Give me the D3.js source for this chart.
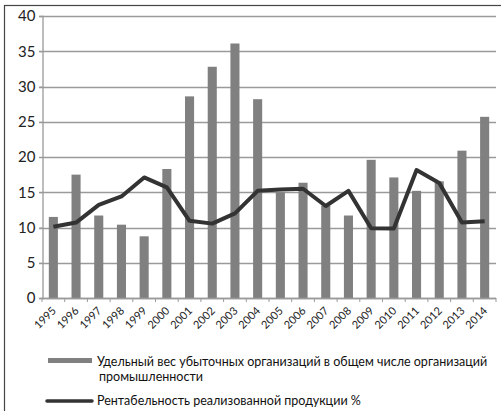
<!DOCTYPE html>
<html>
<head>
<meta charset="utf-8">
<script src="https://cdn.jsdelivr.net/npm/d3@7"></script>
<style>
body { margin: 0; background: #fff; }
</style>
</head>
<body>
<div id="plot"></div>
<script>
var years = ["1995","1996","1997","1998","1999","2000","2001","2002","2003","2004",
             "2005","2006","2007","2008","2009","2010","2011","2012","2013","2014"];
var lossShare = [11.5, 17.5, 11.7, 10.4, 8.75, 18.3, 28.6, 32.8, 36.1, 28.2,
                 15.0, 16.35, 13.1, 11.7, 19.6, 17.1, 15.2, 16.55, 20.9, 25.7];
var profitability = [10.1, 10.7, 13.2, 14.4, 17.1, 15.7, 10.95, 10.55, 12.0, 15.2,
                     15.4, 15.5, 13.05, 15.2, 9.9, 9.85, 18.15, 16.3, 10.7, 10.9];
var yTicks = [0, 5, 10, 15, 20, 25, 30, 35, 40];
var legendBarLines = ["Удельный вес убыточных организаций в общем числе организаций", "промышленности"];
var legendLineLabel = "Рентабельность реализованной продукции %";

var W = 501, H = 411;
var plot = {left: 42, right: 496, top: 16, bottom: 298};
var font = "Lato, 'Open Sans', sans-serif";

var svg = d3.select("#plot").append("svg")
    .attr("width", W)
    .attr("height", H);

// outer frame (cut off at right/bottom like the scan)
svg.append("rect")
    .attr("x", 4.5).attr("y", 5.5)
    .attr("width", W + 10).attr("height", H + 10)
    .attr("fill", "none")
    .attr("stroke", "#444")
    .attr("stroke-width", 1.2);

var Xscale = d3.scaleBand()
    .domain(years)
    .range([plot.left, plot.right])
    .paddingInner(0.6)
    .paddingOuter(0.3);

var Yscale = d3.scaleLinear()
    .domain([0, 40])
    .range([plot.bottom, plot.top]);

// gridlines
svg.append("g")
    .selectAll("line")
    .data(yTicks)
    .enter().append("line")
    .attr("x1", plot.left - 3)
    .attr("x2", plot.right)
    .attr("y1", function(d) { return Math.round(Yscale(d)) + 0.5; })
    .attr("y2", function(d) { return Math.round(Yscale(d)) + 0.5; })
    .attr("stroke", "#9a9a9a")
    .attr("stroke-width", 1.3);

// y axis
var axisY = svg.append("g")
    .attr("transform", "translate(" + (plot.left + 0.5) + ",0)")
    .call(d3.axisLeft(Yscale).tickValues(yTicks).tickSize(3).tickPadding(4));
axisY.select(".domain").attr("stroke", "#9a9a9a").attr("stroke-width", 1.3);
axisY.selectAll(".tick line").attr("stroke", "#9a9a9a");
axisY.selectAll("text")
    .style("font-family", font)
    .style("font-size", "15px")
    .attr("fill", "#222");

// bars
svg.append("g")
    .selectAll("rect")
    .data(lossShare)
    .enter().append("rect")
    .attr("x", function(d, i) { return Xscale(years[i]); })
    .attr("width", Xscale.bandwidth())
    .attr("y", function(d) { return Yscale(d); })
    .attr("height", function(d) { return plot.bottom - Yscale(d); })
    .attr("fill", "#808080");

// x axis with ticks at category boundaries
var step = Xscale.step();
var xg = svg.append("g");
xg.append("line")
    .attr("x1", plot.left).attr("x2", plot.right)
    .attr("y1", plot.bottom + 0.5).attr("y2", plot.bottom + 0.5)
    .attr("stroke", "#9a9a9a").attr("stroke-width", 1.3);
xg.selectAll(".xt")
    .data(d3.range(years.length + 1))
    .enter().append("line")
    .attr("class", "xt")
    .attr("x1", function(i) { return plot.left + i * step; })
    .attr("x2", function(i) { return plot.left + i * step; })
    .attr("y1", plot.bottom).attr("y2", plot.bottom + 4)
    .attr("stroke", "#9a9a9a");
xg.selectAll("text")
    .data(years)
    .enter().append("text")
    .attr("transform", function(d) {
        return "translate(" + (Xscale(d) + Xscale.bandwidth() / 2 - 2) + "," + (plot.bottom + 8) + ") rotate(-45)";
    })
    .attr("text-anchor", "end")
    .attr("dy", "0.7em")
    .style("font-family", font)
    .style("font-size", "11px")
    .attr("fill", "#222")
    .text(function(d) { return d; });

// line
var valueline = d3.line()
    .x(function(d, i) { return Xscale(years[i]) + Xscale.bandwidth() / 2; })
    .y(function(d) { return Yscale(d); });

svg.append("path")
    .datum(profitability)
    .attr("fill", "none")
    .attr("stroke", "#333")
    .attr("stroke-width", 4)
    .attr("stroke-linejoin", "round")
    .attr("d", valueline);

// legend
var lg = svg.append("g");
lg.append("rect")
    .attr("x", 48).attr("y", 358)
    .attr("width", 44).attr("height", 5)
    .attr("fill", "#808080");
var t1 = lg.append("text")
    .attr("x", 97).attr("y", 366)
    .style("font-family", font)
    .style("font-size", "13px")
    .attr("fill", "#111")
    .text(legendBarLines[0]);
// fit first legend line to the width it has in the picture
var fs = 13 * 391 / t1.node().getComputedTextLength();
t1.style("font-size", fs + "px");
lg.append("text")
    .attr("x", 99).attr("y", 381)
    .style("font-family", font)
    .style("font-size", fs + "px")
    .attr("fill", "#111")
    .text(legendBarLines[1]);

lg.append("line")
    .attr("x1", 47).attr("x2", 92)
    .attr("y1", 401).attr("y2", 401)
    .attr("stroke", "#333")
    .attr("stroke-width", 3.5)
    .attr("stroke-linecap", "round");
lg.append("text")
    .attr("x", 97).attr("y", 405)
    .style("font-family", font)
    .style("font-size", fs + "px")
    .attr("fill", "#111")
    .text(legendLineLabel);
</script>
</body>
</html>
